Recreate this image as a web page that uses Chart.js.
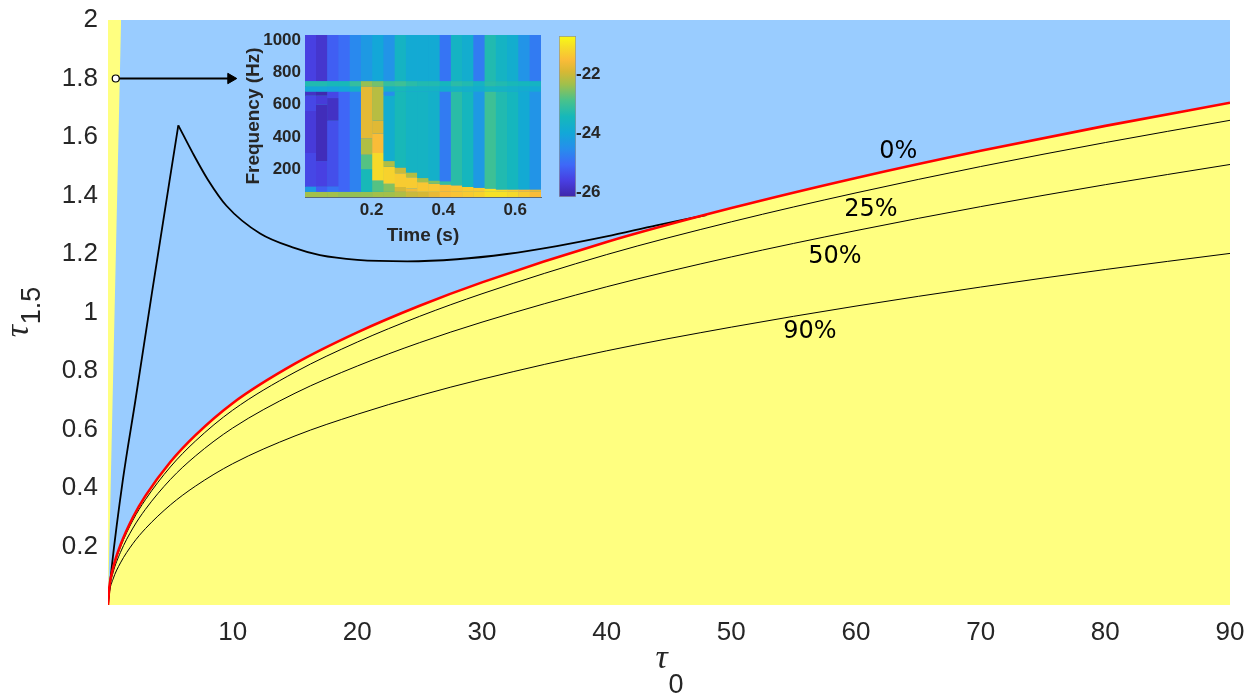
<!DOCTYPE html>
<html>
<head>
<meta charset="utf-8">
<script src="https://cdn.jsdelivr.net/npm/chart.js@4.4.1/dist/chart.umd.min.js"></script>
<style>
  html, body { margin: 0; padding: 0; background: #fff; }
  #wrap { position: relative; width: 1260px; height: 700px; }
  canvas { position: absolute; }
  #main { left: 0; top: 0; }
  #spec { left: 230px; top: 25px; }
  #cbar { left: 555px; top: 25px; }
</style>
</head>
<body>
<div id="wrap">
  <canvas id="main" width="1260" height="700"></canvas>
  <canvas id="spec" width="330" height="225"></canvas>
  <canvas id="cbar" width="70" height="185"></canvas>
</div>
<script>
// ---- main panel: tau_1.5 threshold curves against tau_0 ----
const tau0 = [0, 0.1, 0.4, 1, 2, 3, 5, 7, 10, 15, 20, 25, 30, 40, 50, 60, 70, 80, 90];
const tau0pct = [0, 0.058, 0.125, 0.205, 0.3, 0.373, 0.489, 0.58, 0.69, 0.825, 0.932, 1.023, 1.103, 1.241, 1.357, 1.46, 1.553, 1.638, 1.717];
const tau25pct = [0, 0.056, 0.121, 0.198, 0.29, 0.36, 0.472, 0.56, 0.666, 0.796, 0.899, 0.987, 1.064, 1.198, 1.31, 1.409, 1.499, 1.581, 1.657];
const tau50pct = [0, 0.051, 0.11, 0.18, 0.263, 0.327, 0.429, 0.509, 0.605, 0.724, 0.817, 0.897, 0.967, 1.088, 1.19, 1.28, 1.362, 1.437, 1.506];
const tau90pct = [0, 0.041, 0.088, 0.144, 0.21, 0.261, 0.342, 0.406, 0.483, 0.578, 0.652, 0.716, 0.772, 0.869, 0.95, 1.022, 1.087, 1.147, 1.202];
const pctLabels = ['0%', '25%', '50%', '90%'];

// trajectory: sharp rise then decay back onto the 0% curve
const riseTau0 = [0, 0.3, 1.2, 2.2, 3.5, 5.64];
const riseTau = [0, 0.13, 0.43, 0.7, 1.06, 1.64];
const fallTau0 = [5.64, 6.8, 8, 9.5, 12.2, 15, 17, 20, 24, 28, 32, 36, 40, 44, 48];
const fallTau = [1.64, 1.545, 1.455, 1.365, 1.27, 1.22, 1.196, 1.18, 1.175, 1.182, 1.2, 1.227, 1.26, 1.298, 1.333];

// thin region along the left edge
const stripTau0 = [0, 1.05];
const stripTau = [0, 2];

// marker at tau_1.5 = 1.8 pointing to the inset
const arrowTau0 = [0.62, 9.85];
const arrowTau = [1.8, 1.8];

const xTicks = [10, 20, 30, 40, 50, 60, 70, 80, 90];
const yTicks = [0.2, 0.4, 0.6, 0.8, 1, 1.2, 1.4, 1.6, 1.8, 2];

// ---- inset: spectrogram (dB), columns of [fLow, fHigh, level] runs ----
const specTime = [0.0302, 0.0615, 0.0928, 0.1241, 0.1554, 0.1867, 0.218, 0.2493, 0.2806, 0.3119, 0.3432,
  0.3745, 0.4058, 0.4371, 0.4684, 0.4997, 0.531, 0.5623, 0.5936, 0.6249, 0.6562];
const specRuns = [
  [[28, 60, -22.3], [60, 92, -24.3], [92, 300, -25.5], [300, 560, -25.7], [560, 655, -25.5], [655, 680, -25.9], [680, 712, -24.0], [712, 745, -23.3], [745, 1030, -25.6]],
  [[28, 60, -22.3], [60, 92, -25.2], [92, 250, -25.6], [250, 600, -26.0], [600, 655, -25.7], [655, 680, -26.1], [680, 712, -24.0], [712, 745, -23.3], [745, 1030, -25.8]],
  [[28, 60, -22.3], [60, 92, -24.9], [92, 500, -25.4], [500, 640, -25.9], [640, 680, -25.5], [680, 712, -24.1], [712, 745, -23.4], [745, 1030, -25.2]],
  [[28, 60, -22.4], [60, 680, -25.1], [680, 712, -24.0], [712, 745, -23.4], [745, 1030, -25.0]],
  [[28, 60, -22.4], [60, 680, -24.7], [680, 712, -23.7], [712, 745, -23.1], [745, 1030, -24.6]],
  [[28, 60, -22.4], [60, 200, -23.4], [200, 290, -22.8], [290, 390, -22.2], [390, 712, -21.75], [712, 745, -22.4], [745, 1030, -24.3]],
  [[28, 60, -22.3], [60, 130, -22.8], [130, 300, -21.1], [300, 420, -21.5], [420, 500, -21.8], [500, 712, -22.15], [712, 745, -22.6], [745, 1030, -24.0]],
  [[28, 60, -22.3], [60, 110, -22.5], [110, 215, -21.2], [215, 250, -22.2], [250, 655, -23.8], [655, 680, -24.5], [680, 712, -23.6], [712, 745, -23.1], [745, 1030, -24.4]],
  [[28, 60, -22.2], [60, 90, -21.9], [90, 175, -21.3], [175, 210, -22.0], [210, 680, -23.4], [680, 712, -23.4], [712, 745, -23.0], [745, 1030, -23.6]],
  [[28, 60, -22.0], [60, 80, -21.6], [80, 150, -21.3], [150, 180, -22.2], [180, 680, -23.6], [680, 712, -23.6], [712, 745, -23.2], [745, 1030, -23.9]],
  [[28, 60, -21.9], [60, 120, -21.35], [120, 145, -22.3], [145, 680, -23.6], [680, 712, -23.6], [712, 745, -23.3], [745, 1030, -23.9]],
  [[28, 60, -21.7], [60, 110, -21.35], [110, 130, -22.5], [130, 680, -23.7], [680, 712, -23.6], [712, 745, -23.3], [745, 1030, -23.9]],
  [[28, 60, -21.5], [60, 105, -21.5], [105, 125, -23.1], [125, 680, -24.8], [680, 712, -23.8], [712, 745, -23.5], [745, 1030, -24.9]],
  [[28, 60, -21.4], [60, 100, -21.4], [100, 680, -23.2], [680, 712, -23.6], [712, 745, -23.2], [745, 1030, -23.6]],
  [[28, 60, -21.3], [60, 90, -21.3], [90, 680, -23.5], [680, 712, -23.7], [712, 745, -23.3], [745, 1030, -23.8]],
  [[28, 60, -21.2], [60, 85, -21.3], [85, 680, -24.3], [680, 712, -23.8], [712, 745, -23.6], [745, 1030, -24.8]],
  [[28, 60, -21.0], [60, 80, -21.0], [80, 680, -23.0], [680, 712, -23.5], [712, 745, -23.2], [745, 1030, -23.3]],
  [[28, 60, -21.0], [60, 75, -21.1], [75, 680, -23.3], [680, 712, -23.6], [712, 745, -23.3], [745, 1030, -23.6]],
  [[28, 60, -21.1], [60, 75, -21.3], [75, 680, -23.5], [680, 712, -23.7], [712, 745, -23.4], [745, 1030, -23.8]],
  [[28, 60, -21.3], [60, 75, -21.5], [75, 680, -23.9], [680, 712, -23.8], [712, 745, -23.5], [745, 1030, -24.4]],
  [[28, 60, -21.5], [60, 75, -21.7], [75, 680, -24.4], [680, 712, -23.9], [712, 745, -23.6], [745, 1030, -24.8]]
];
const timeTicks = [0.2, 0.4, 0.6];
const freqTicks = [200, 400, 600, 800, 1000];
const dbTicks = [-26, -24, -22];

// colour scale limits
const dbMin = -26.17;
const dbMax = -20.68;

// parula-like colormap stops
const parula = [
  [0.0, [62, 38, 168]],
  [0.1, [72, 62, 225]],
  [0.2, [62, 104, 248]],
  [0.3, [38, 142, 236]],
  [0.4, [18, 168, 215]],
  [0.5, [22, 184, 186]],
  [0.6, [72, 194, 140]],
  [0.7, [160, 192, 75]],
  [0.78, [216, 184, 52]],
  [0.85, [250, 188, 56]],
  [0.93, [246, 220, 40]],
  [1.0, [249, 251, 20]]
];

function parulaAt(f) {
  f = Math.min(1, Math.max(0, f));
  for (let i = 1; i < parula.length; i++) {
    const [f1, c1] = parula[i];
    const [f0, c0] = parula[i - 1];
    if (f <= f1) {
      const t = (f - f0) / (f1 - f0);
      const c = c0.map((v, k) => Math.round(v + (c1[k] - v) * t));
      return `rgb(${c[0]},${c[1]},${c[2]})`;
    }
  }
  return 'rgb(249,251,20)';
}
const dbColor = db => parulaAt((db - dbMin) / (dbMax - dbMin));

const BLUE = '#99ccff';
const YELLOW = '#ffff80';
const INK = '#262626';
const SANS = '"Liberation Sans", Arial, Helvetica, sans-serif';

const pts = (xs, ys) => xs.map((x, i) => ({ x, y: ys[i] }));
const fixedTicks = list => scale => { scale.ticks = list.map(v => ({ value: v })); };
const noGrid = { display: false, drawTicks: false, tickLength: 0 };

// plot area background
const plotBackground = {
  id: 'plotBackground',
  beforeDraw(chart, args, opts) {
    if (!opts.color) return;
    const { ctx, chartArea: a } = chart;
    ctx.save();
    ctx.fillStyle = opts.color;
    ctx.fillRect(a.left, a.top, a.width, a.height);
    ctx.restore();
  }
};

// tau with a subscript, centred on (x, y) baseline
function drawTau(ctx, x, y, sub, drop) {
  const fBase = 'italic 34px "Liberation Serif", serif';
  const fSub = '27px ' + SANS;
  ctx.font = fBase;
  const w1 = ctx.measureText('τ').width;
  ctx.font = fSub;
  const w2 = ctx.measureText(sub).width;
  const x0 = x - (w1 + w2) / 2;
  ctx.font = fBase;
  ctx.fillText('τ', x0, y);
  ctx.font = fSub;
  ctx.fillText(sub, x0 + w1 + 1, y + drop);
}

const axisTitles = {
  id: 'axisTitles',
  afterDraw(chart) {
    const { ctx, chartArea: a } = chart;
    ctx.save();
    ctx.fillStyle = INK;
    ctx.textAlign = 'left';
    ctx.textBaseline = 'alphabetic';
    drawTau(ctx, (a.left + a.right) / 2, 668, '0', 25);
    ctx.translate(28, (a.top + a.bottom) / 2);
    ctx.rotate(-Math.PI / 2);
    drawTau(ctx, 0, 0, '1.5', 12);
    ctx.restore();
  }
};

// percentage tags next to each threshold curve
const curveTags = {
  id: 'curveTags',
  afterDatasetsDraw(chart, args, opts) {
    const { ctx, scales: { x, y } } = chart;
    ctx.save();
    ctx.fillStyle = '#000';
    ctx.font = '24px "DejaVu Sans", sans-serif';
    ctx.textAlign = 'center';
    ctx.textBaseline = 'middle';
    opts.at.forEach((p, i) => {
      ctx.fillText(pctLabels[i], x.getPixelForValue(p[0]), y.getPixelForValue(p[1]));
    });
    ctx.restore();
  }
};

const thin = (data, order) => ({
  data, borderColor: '#000', borderWidth: 1, cubicInterpolationMode: 'monotone', fill: false, order
});

new Chart(document.getElementById('main'), {
  type: 'line',
  data: {
    datasets: [
      { data: pts(stripTau0, stripTau), borderWidth: 0, borderColor: 'rgba(0,0,0,0)', fill: 'end', backgroundColor: YELLOW, order: 6 },
      thin(pts(tau0, tau90pct), 5),
      thin(pts(tau0, tau50pct), 5),
      thin(pts(tau0, tau25pct), 5),
      { data: pts(riseTau0, riseTau), borderColor: '#000', borderWidth: 1.8, cubicInterpolationMode: 'monotone', fill: false, order: 3 },
      { data: pts(fallTau0, fallTau), borderColor: '#000', borderWidth: 1.8, cubicInterpolationMode: 'monotone', fill: false, order: 3 },
      { data: pts(tau0, tau0pct), borderColor: '#ff0000', borderWidth: 2.6, cubicInterpolationMode: 'monotone',
        fill: 'origin', backgroundColor: YELLOW, order: 1 },
      { data: pts(arrowTau0, arrowTau), borderColor: '#000', borderWidth: 2, fill: false, order: 0,
        pointStyle: ['circle', 'triangle'], pointRadius: [3.5, 6], pointRotation: [0, 90],
        pointBackgroundColor: ['#ffffff', '#000000'], pointBorderColor: '#000', pointBorderWidth: [1.2, 1] }
    ]
  },
  options: {
    responsive: false,
    animation: false,
    elements: { point: { radius: 0 }, line: { tension: 0 } },
    layout: { padding: { top: 20, right: 30, left: 0, bottom: 0 } },
    plugins: {
      legend: { display: false },
      tooltip: { enabled: false },
      filler: { drawTime: 'beforeDatasetsDraw' },
      plotBackground: { color: BLUE },
      curveTags: { at: [[63.4, 1.55], [61.2, 1.35], [58.3, 1.19], [56.3, 0.935]] }
    },
    scales: {
      x: {
        type: 'linear', min: 0, max: 90,
        grid: noGrid, border: { display: false },
        afterBuildTicks: fixedTicks(xTicks),
        afterFit: s => { s.height = 95; s.paddingLeft = 0; s.paddingRight = 0; },
        ticks: { color: INK, padding: 12, maxRotation: 0, autoSkip: false, font: { family: SANS, size: 26 }, callback: v => String(v) }
      },
      y: {
        type: 'linear', min: 0, max: 2,
        grid: noGrid, border: { display: false },
        afterBuildTicks: fixedTicks(yTicks),
        afterFit: s => { s.width = 108; s.paddingTop = 0; s.paddingBottom = 0; },
        ticks: { color: INK, padding: 10, autoSkip: false, font: { family: SANS, size: 26 }, callback: v => String(v) }
      }
    }
  },
  plugins: [plotBackground, curveTags, axisTitles]
});

// ---- inset spectrogram ----
const cells = [];
const cellColors = [];
specRuns.forEach((col, i) => {
  col.forEach(([lo, hi, db]) => {
    cells.push({ x: specTime[i], y: [lo, hi] });
    cellColors.push(dbColor(db));
  });
});

const boldTick = { family: SANS, size: 17, weight: 'bold' };

new Chart(document.getElementById('spec'), {
  type: 'bar',
  data: {
    datasets: [{ data: cells, backgroundColor: cellColors, borderWidth: 0, barPercentage: 1.04, categoryPercentage: 1 }]
  },
  options: {
    responsive: false,
    animation: false,
    layout: { padding: { top: 10, right: 19, left: 0, bottom: 0 } },
    plugins: { legend: { display: false }, tooltip: { enabled: false }, plotBackground: { color: '#2a9ad8' } },
    scales: {
      x: {
        type: 'linear', offset: false, min: 0.01455, max: 0.67185,
        grid: noGrid, border: { color: '#5a6a7a', width: 1 },
        afterBuildTicks: fixedTicks(timeTicks),
        afterFit: s => { s.height = 53; s.paddingLeft = 0; s.paddingRight = 0; },
        ticks: { color: INK, padding: 3, maxRotation: 0, autoSkip: false, font: boldTick, callback: v => String(v) },
        title: { display: true, text: 'Time (s)', color: INK, font: { family: SANS, size: 19, weight: 'bold' }, padding: { top: 0, bottom: 3 } }
      },
      y: {
        type: 'linear', min: 28, max: 1030,
        grid: noGrid, border: { color: '#5a6a7a', width: 1 },
        afterBuildTicks: fixedTicks(freqTicks),
        afterFit: s => { s.width = 75; s.paddingTop = 0; s.paddingBottom = 0; },
        ticks: { color: INK, padding: 4, autoSkip: false, font: boldTick, callback: v => String(v) },
        title: { display: true, text: 'Frequency (Hz)', color: INK, font: { family: SANS, size: 19, weight: 'bold' }, padding: { top: 12, bottom: 0 } }
      }
    }
  },
  plugins: [plotBackground]
});

// ---- colour bar ----
new Chart(document.getElementById('cbar'), {
  type: 'bar',
  data: {
    labels: [''],
    datasets: [{
      data: [[dbMin, dbMax]],
      backgroundColor: ctx => {
        const chart = ctx.chart;
        const ys = chart.scales.y;
        if (!chart.chartArea || !ys) return dbColor(-23.5);
        const g = chart.ctx.createLinearGradient(0, ys.getPixelForValue(dbMin), 0, ys.getPixelForValue(dbMax));
        parula.forEach(([f]) => g.addColorStop(f, parulaAt(f)));
        return g;
      },
      borderColor: '#8a94a0', borderWidth: 1, borderSkipped: false,
      barPercentage: 1, categoryPercentage: 1
    }]
  },
  options: {
    responsive: false,
    animation: false,
    layout: { padding: { top: 11, bottom: 13, left: 4, right: 0 } },
    plugins: { legend: { display: false }, tooltip: { enabled: false } },
    scales: {
      x: { display: false },
      y: {
        position: 'right', min: dbMin, max: dbMax,
        grid: noGrid, border: { display: false },
        afterBuildTicks: fixedTicks(dbTicks),
        afterFit: s => { s.width = 49; s.paddingTop = 0; s.paddingBottom = 0; },
        ticks: { color: INK, padding: 0, autoSkip: false, font: boldTick, callback: v => String(v) }
      }
    }
  }
});
</script>
</body>
</html>
